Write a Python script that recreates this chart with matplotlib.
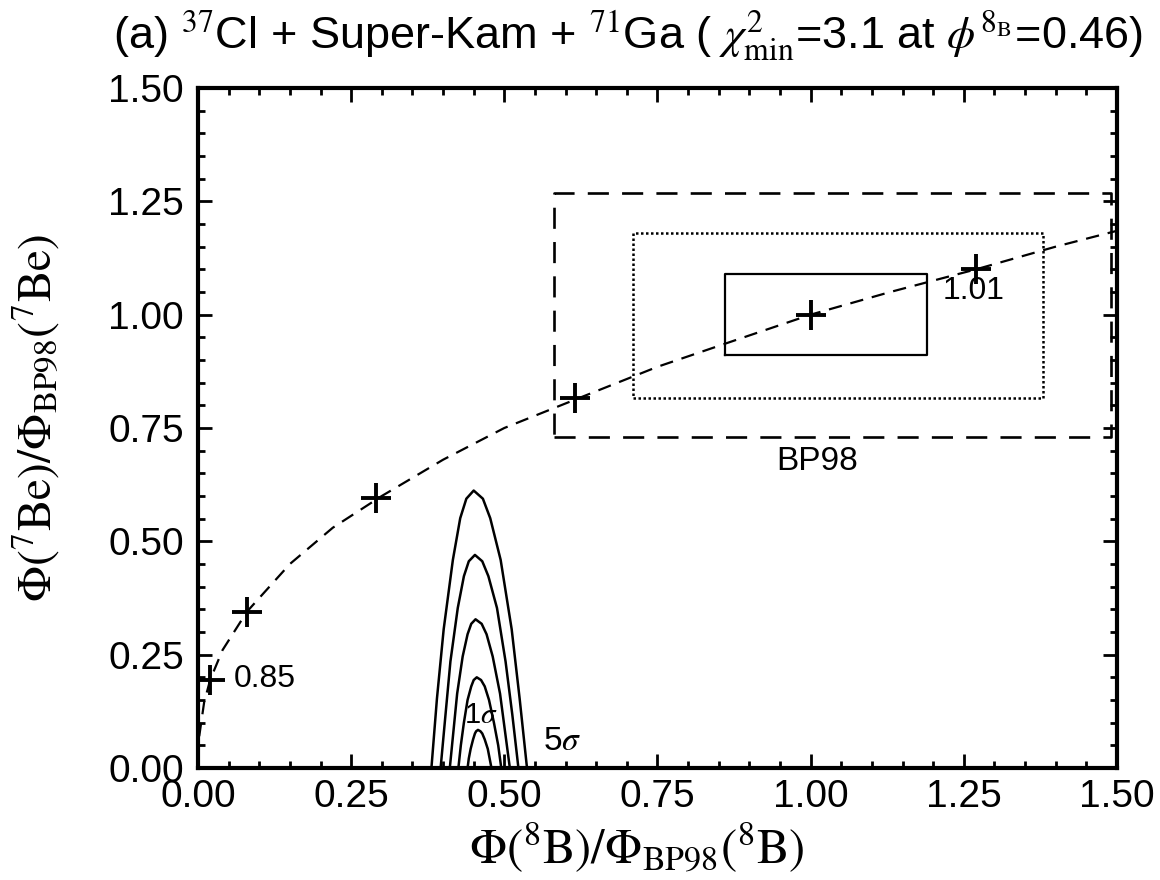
# import needed packages
import numpy as np
import matplotlib
matplotlib.use("Agg")
import matplotlib.pyplot as plt
from matplotlib.ticker import MultipleLocator

plt.rcParams['font.family'] = ['Liberation Sans', 'DejaVu Sans']
plt.rcParams['mathtext.fontset'] = 'stix'

# dashed path of the flux ratios
curve_x = [0.002, 0.01, 0.02, 0.04, 0.08, 0.15, 0.22, 0.30, 0.40, 0.50, 0.62, 0.75, 0.88, 1.00, 1.13, 1.27, 1.40, 1.50]
curve_y = [0.07, 0.145, 0.195, 0.26, 0.345, 0.45, 0.53, 0.60, 0.68, 0.75, 0.815, 0.885, 0.945, 1.00, 1.05, 1.10, 1.15, 1.185]

# crosses along the path
cross_x = [0.02, 0.08, 0.29, 0.615, 1.00, 1.27]
cross_y = [0.195, 0.345, 0.595, 0.816, 1.00, 1.10]

# BP98 boxes: (x0, x1, y0, y1)
box_solid = [0.86, 1.19, 0.91, 1.09]
box_dotted = [0.71, 1.38, 0.816, 1.18]
box_dashed = [0.581, 1.49, 0.73, 1.268]

# chi2 contours 1..5 sigma
c1_x = [0.440, 0.442, 0.445, 0.449, 0.452, 0.454, 0.457, 0.461, 0.464, 0.468, 0.473, 0.476, 0.479]
c1_y = [0.0, 0.021, 0.042, 0.063, 0.076, 0.081, 0.084, 0.081, 0.076, 0.063, 0.042, 0.021, 0.0]
c2_x = [0.425, 0.429, 0.434, 0.440, 0.446, 0.450, 0.455, 0.462, 0.468, 0.475, 0.483, 0.490, 0.495]
c2_y = [0.0, 0.05, 0.10, 0.15, 0.18, 0.194, 0.20, 0.194, 0.18, 0.15, 0.10, 0.05, 0.0]
c3_x = [0.411, 0.417, 0.423, 0.432, 0.440, 0.446, 0.453, 0.463, 0.471, 0.481, 0.493, 0.501, 0.509]
c3_y = [0.0, 0.082, 0.164, 0.246, 0.295, 0.318, 0.328, 0.318, 0.295, 0.246, 0.164, 0.082, 0.0]
c4_x = [0.396, 0.404, 0.412, 0.424, 0.434, 0.442, 0.452, 0.464, 0.474, 0.488, 0.502, 0.513, 0.523]
c4_y = [0.0, 0.118, 0.235, 0.353, 0.423, 0.456, 0.47, 0.456, 0.423, 0.353, 0.235, 0.118, 0.0]
c5_x = [0.381, 0.390, 0.401, 0.416, 0.428, 0.438, 0.450, 0.465, 0.477, 0.494, 0.512, 0.525, 0.537]
c5_y = [0.0, 0.153, 0.306, 0.459, 0.551, 0.594, 0.612, 0.594, 0.551, 0.459, 0.306, 0.153, 0.0]


def draw_box(ax, b, ls, lw):
    ax.plot([b[0], b[1], b[1], b[0], b[0]], [b[2], b[2], b[3], b[3], b[2]],
            color="k", linestyle=ls, linewidth=lw)


fig = plt.figure(figsize=(11.6, 8.8), dpi=100)
ax = fig.add_axes([0.1707, 0.1273, 0.7922, 0.7727])

# boxes
draw_box(ax, box_dashed, (0, (8, 5)), 1.9)
draw_box(ax, box_dotted, (0, (1, 1)), 1.8)
draw_box(ax, box_solid, "-", 1.6)

# path + crosses
ax.plot(curve_x, curve_y, color="k", linestyle=(0, (6, 4)), linewidth=1.6)
ax.plot(cross_x, cross_y, linestyle="none", marker="+", markersize=22,
        markeredgewidth=2.8, color="k")

# contours
for cx, cy in [(c1_x, c1_y), (c2_x, c2_y), (c3_x, c3_y), (c4_x, c4_y), (c5_x, c5_y)]:
    ax.plot(cx, cy, color="k", linewidth=1.8)

# annotations
ax.text(0.058, 0.197, "0.85", fontsize=23, va="center", ha="left")
ax.text(1.215, 1.052, "1.01", fontsize=23, va="center", ha="left")
ax.text(1.01, 0.675, "BP98", fontsize=24, va="center", ha="center")
ax.text(0.462, 0.117, r"1$\sigma$", fontsize=21, va="center", ha="center")
ax.text(0.594, 0.058, r"5$\sigma$", fontsize=24, va="center", ha="center")

ax.set_xlim(0, 1.5)
ax.set_ylim(0, 1.5)
ax.xaxis.set_major_locator(MultipleLocator(0.25))
ax.yaxis.set_major_locator(MultipleLocator(0.25))
ax.xaxis.set_minor_locator(MultipleLocator(0.05))
ax.yaxis.set_minor_locator(MultipleLocator(0.05))
ax.xaxis.set_major_formatter(plt.FuncFormatter(lambda v, p: "%.2f" % v))
ax.yaxis.set_major_formatter(plt.FuncFormatter(lambda v, p: "%.2f" % v))
ax.tick_params(which="both", direction="in", top=True, right=True, width=2, labelsize=28)
ax.tick_params(which="major", length=10)
ax.tick_params(axis="x", which="major", pad=8)
ax.tick_params(axis="y", which="major", pad=10)
ax.tick_params(which="minor", length=5)
for s in ax.spines.values():
    s.set_linewidth(3)

ax.set_xlabel(r"$\Phi(^{8}\mathrm{B})/\Phi_{\mathrm{BP98}}(^{8}\mathrm{B})$", fontsize=35)
ax.xaxis.set_label_coords(0.478, -0.078)
ax.set_ylabel(r"$\Phi(^{7}\mathrm{Be})/\Phi_{\mathrm{BP98}}(^{7}\mathrm{Be})$", fontsize=34)
ax.yaxis.set_label_coords(-0.148, 0.515)
fig.text(0.541, 0.959,
         r"(a) $^{37}$Cl + Super-Kam + $^{71}$Ga ( $\chi^{2}_{\mathrm{min}}$=3.1 at $\phi^{8_{\mathrm{B}}}$=0.46)",
         fontsize=32.5, ha="center", va="center")

fig.savefig("out.png", dpi=100)
